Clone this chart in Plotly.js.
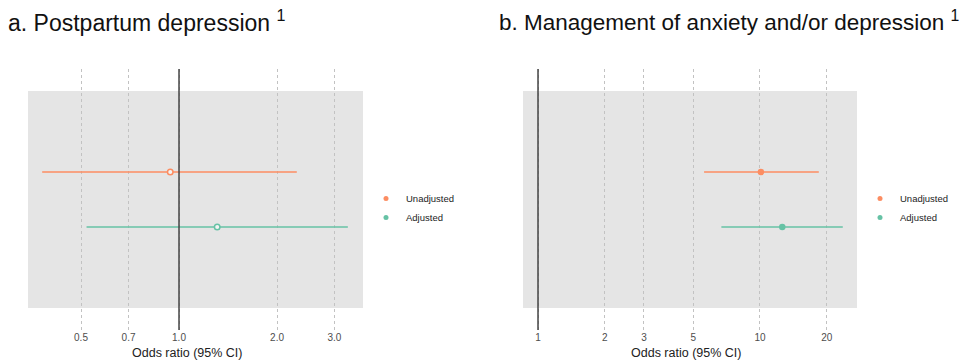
<!DOCTYPE html>
<html>
<head>
<meta charset="utf-8">
<script src="https://cdn.plot.ly/plotly-3.0.1.min.js"></script>
<style>html,body{margin:0;padding:0;background:#fff;} #chart{width:968px;height:360px;}</style>
</head>
<body>
<div id="chart"></div>
<script>
// ---- data ----
const groups = ['Unadjusted', 'Adjusted'];
const ppdOR = [0.94, 1.31];
const ppdLo = [0.38, 0.52];
const ppdHi = [2.30, 3.30];
const mgmtOR = [10.1, 12.6];
const mgmtLo = [5.6, 6.7];
const mgmtHi = [18.4, 23.6];
const ppdTicks = [0.5, 0.7, 1, 2, 3];
const ppdTickText = ['0.5', '0.7', '1.0', '2.0', '3.0'];
const mgmtTicks = [1, 2, 3, 5, 10, 20];
const mgmtTickText = ['1', '2', '3', '5', '10', '20'];
const colors = ['#FC8D62', '#66C2A5'];

const FONT = 'Liberation Sans, Arial, Helvetica, sans-serif';
const W = 968, H = 360, T = 69, B = 30;
const PH = H - T - B;
const py = p => (H - B - p) / PH; // pixel -> paper y

const traces = [];
groups.forEach((g, i) => {
  traces.push({
    type: 'scatter', mode: 'markers', xaxis: 'x', yaxis: 'y',
    x: [ppdOR[i]], y: [g], showlegend: false, hoverinfo: 'skip',
    error_x: {type: 'data', symmetric: false, array: [ppdHi[i] - ppdOR[i]], arrayminus: [ppdOR[i] - ppdLo[i]],
              width: 0, thickness: 1.5, color: colors[i]},
    marker: {symbol: 'circle', size: 5.5, color: '#f4f4f4', line: {color: colors[i], width: 1.5}}
  });
  traces.push({
    type: 'scatter', mode: 'markers', xaxis: 'x2', yaxis: 'y',
    x: [mgmtOR[i]], y: [g], showlegend: false, hoverinfo: 'skip',
    error_x: {type: 'data', symmetric: false, array: [mgmtHi[i] - mgmtOR[i]], arrayminus: [mgmtOR[i] - mgmtLo[i]],
              width: 0, thickness: 1.5, color: colors[i]},
    marker: {symbol: 'circle', size: 6.5, color: colors[i]}
  });
});
// legend entries
groups.forEach((g, i) => {
  traces.push({type: 'scatter', mode: 'markers', x: [null], y: [null], xaxis: 'x', yaxis: 'y',
    name: g, legend: 'legend', marker: {size: 5, color: colors[i]}});
});
groups.forEach((g, i) => {
  traces.push({type: 'scatter', mode: 'markers', x: [null], y: [null], xaxis: 'x2', yaxis: 'y',
    name: g, legend: 'legend2', marker: {size: 5, color: colors[i]}});
});

const axCommon = {
  type: 'log', showgrid: true, gridcolor: '#c2c2c2', griddash: '3px,3px', gridwidth: 1,
  zeroline: false, showline: false, ticks: '', anchor: 'y',
  tickfont: {family: FONT, size: 10, color: '#4d4d4d'}, fixedrange: true
};

const legCommon = {
  xanchor: 'left', yanchor: 'middle', y: py(208), bgcolor: 'rgba(0,0,0,0)',
  font: {family: FONT, size: 9.5, color: '#222'}, itemwidth: 30, tracegroupgap: 0
};

const layout = {
  width: W, height: H,
  margin: {l: 0, r: 0, t: T, b: B, pad: 0},
  paper_bgcolor: '#fff', plot_bgcolor: '#fff',
  font: {family: FONT},
  xaxis: Object.assign({}, axCommon, {domain: [28 / W, 363 / W], range: [-0.4638, 0.5651],
    tickvals: ppdTicks, ticktext: ppdTickText}),
  xaxis2: Object.assign({}, axCommon, {domain: [523 / W, 857 / W], range: [-0.0676, 1.437],
    tickvals: mgmtTicks, ticktext: mgmtTickText}),
  yaxis: {type: 'category', categoryarray: ['Adjusted', 'Unadjusted'], categoryorder: 'array',
    range: [-1.873, 2.873], showgrid: false, zeroline: false, showticklabels: false, ticks: '',
    showline: false, fixedrange: true},
  showlegend: true,
  legend: Object.assign({}, legCommon, {x: 366 / W}),
  legend2: Object.assign({}, legCommon, {x: 860 / W}),
  shapes: [
    {type: 'rect', xref: 'x domain', yref: 'paper', x0: 0, x1: 1, y0: py(308), y1: py(91),
     fillcolor: '#e5e5e5', line: {width: 0}, layer: 'below'},
    {type: 'rect', xref: 'x2 domain', yref: 'paper', x0: 0, x1: 1, y0: py(308), y1: py(91),
     fillcolor: '#e5e5e5', line: {width: 0}, layer: 'below'},
    {type: 'line', xref: 'x', yref: 'paper', x0: 1, x1: 1, y0: 0, y1: 1,
     line: {color: '#444444', width: 1.5}, layer: 'above'},
    {type: 'line', xref: 'x2', yref: 'paper', x0: 1, x1: 1, y0: 0, y1: 1,
     line: {color: '#444444', width: 1.5}, layer: 'above'}
  ],
  annotations: [
    {text: 'a. Postpartum depression <sup>1</sup>', xref: 'paper', yref: 'paper', x: 6 / W, y: py(21),
     xanchor: 'left', yanchor: 'middle', showarrow: false, font: {family: FONT, size: 23, color: '#111'}},
    {text: 'b. Management of anxiety and/or depression <sup>1</sup>', xref: 'paper', yref: 'paper', x: 497 / W, y: py(21),
     xanchor: 'left', yanchor: 'middle', showarrow: false, font: {family: FONT, size: 22.5, color: '#111'}},
    {text: 'Odds ratio (95% CI)', xref: 'paper', yref: 'paper', x: 187 / W, y: py(353),
     xanchor: 'center', yanchor: 'middle', showarrow: false, font: {family: FONT, size: 12.5, color: '#222'}},
    {text: 'Odds ratio (95% CI)', xref: 'paper', yref: 'paper', x: 686 / W, y: py(353),
     xanchor: 'center', yanchor: 'middle', showarrow: false, font: {family: FONT, size: 12.5, color: '#222'}}
  ]
};

Plotly.newPlot('chart', traces, layout, {displayModeBar: false, staticPlot: true});
</script>
</body>
</html>
